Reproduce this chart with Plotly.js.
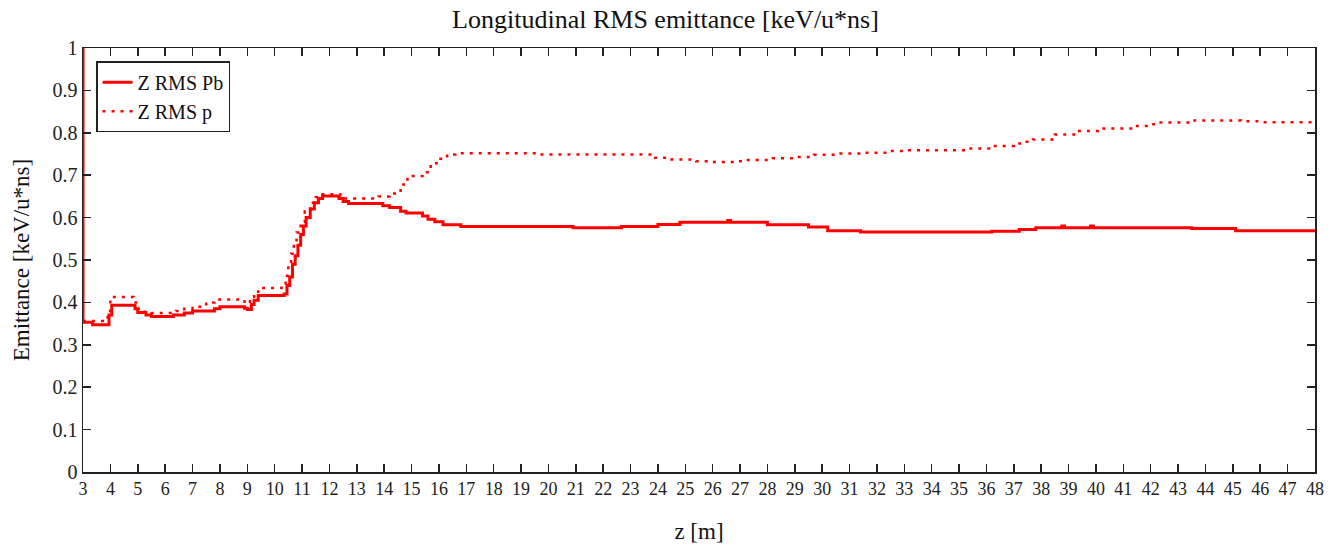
<!DOCTYPE html>
<html>
<head>
<meta charset="utf-8">
<script src="https://cdn.plot.ly/plotly-3.0.1.min.js"></script>
<style>
  html, body { margin: 0; padding: 0; background: #fff; }
  #chart { width: 1331px; height: 547px; }
</style>
</head>
<body>
<div id="chart"></div>
<script>
// Longitudinal RMS emittance along the line, step-wise values (held until next z)
const zPb = [3.0, 3.0, 3.35, 3.95, 4.05, 4.9, 5.0, 5.3, 5.5, 6.3, 6.7, 7.0, 7.8, 8.0, 8.9, 9.0,
  9.15, 9.25, 9.4, 10.35, 10.45, 10.55, 10.65, 10.75, 10.85, 10.95, 11.05, 11.15, 11.3, 11.45,
  11.6, 11.75, 12.35, 12.5, 12.7, 13.95, 14.2, 14.6, 14.8, 15.4, 15.6, 15.85, 16.15, 16.8,
  20.9, 22.67, 24.0, 24.8, 26.55, 26.65, 28.0, 29.5, 30.2, 31.4, 36.2, 37.2, 37.8, 38.75,
  38.85, 39.8, 39.9, 43.5, 45.1, 48.0];
const emitPb = [1.05, 0.353, 0.347, 0.37, 0.393, 0.385, 0.376, 0.37, 0.367, 0.37, 0.375, 0.38,
  0.385, 0.39, 0.386, 0.383, 0.395, 0.405, 0.416, 0.42, 0.44, 0.46, 0.49, 0.51, 0.535, 0.56,
  0.58, 0.6, 0.62, 0.635, 0.645, 0.651, 0.645, 0.638, 0.633, 0.628, 0.624, 0.615, 0.611,
  0.604, 0.596, 0.59, 0.583, 0.579, 0.576, 0.579, 0.584, 0.589, 0.593, 0.589, 0.583, 0.578,
  0.569, 0.566, 0.568, 0.572, 0.576, 0.58, 0.576, 0.58, 0.576, 0.574, 0.569, 0.569];

const zP = [3.0, 3.9, 4.0, 4.85, 5.0, 5.2, 5.5, 6.4, 6.7, 7.0, 7.5, 7.8, 8.9, 9.1, 9.25, 9.4,
  10.25, 10.4, 10.5, 10.6, 10.7, 10.8, 10.95, 11.1, 11.3, 11.5, 11.7, 12.4, 13.8, 14.2, 14.6,
  14.85, 15.4, 15.7, 16.0, 16.3, 16.6, 19.7, 23.9, 24.3, 25.4, 26.0, 26.8, 27.2, 28.2, 29.0,
  29.7, 30.5, 31.5, 32.3, 33.0, 35.3, 36.2, 37.0, 37.4, 37.7, 38.5, 39.2, 40.2, 41.4, 41.9,
  42.2, 43.6, 45.3, 46.0, 48.0];
const emitP = [0.356, 0.38, 0.413, 0.4, 0.385, 0.378, 0.375, 0.38, 0.385, 0.39, 0.4, 0.407,
  0.398, 0.41, 0.425, 0.434, 0.445, 0.463, 0.49, 0.515, 0.54, 0.565, 0.59, 0.615, 0.635,
  0.648, 0.655, 0.645, 0.65, 0.657, 0.678, 0.698, 0.707, 0.728, 0.739, 0.749, 0.752, 0.749,
  0.741, 0.737, 0.733, 0.731, 0.733, 0.736, 0.74, 0.743, 0.748, 0.751, 0.753, 0.757, 0.759,
  0.763, 0.769, 0.775, 0.779, 0.784, 0.796, 0.804, 0.81, 0.816, 0.82, 0.824, 0.829, 0.827,
  0.825, 0.825];

const seriesNames = ['Z RMS Pb', 'Z RMS p'];
const serif = 'Liberation Serif, Times New Roman, serif';

const traces = [
  {
    x: zPb, y: emitPb, name: seriesNames[0], type: 'scatter', mode: 'lines',
    line: { color: '#ff0000', width: 3, shape: 'hv' }
  },
  {
    x: zP, y: emitP, name: seriesNames[1], type: 'scatter', mode: 'lines',
    line: { color: '#ff0000', width: 2.5, shape: 'hv', dash: '3px,6px' }
  }
];

const axisCommon = {
  showline: true, linecolor: '#222', linewidth: 1.5, mirror: 'ticks',
  ticks: 'inside', ticklen: 8, tickwidth: 1.5, tickcolor: '#222',
  showgrid: false, zeroline: false
};

const layout = {
  width: 1331, height: 547,
  margin: { l: 83, r: 16, t: 48, b: 75 },
  paper_bgcolor: '#fff', plot_bgcolor: '#fff',
  title: {
    text: 'Longitudinal RMS emittance [keV/u*ns]',
    font: { family: serif, size: 26, color: '#111' },
    x: 0.5, xanchor: 'center', y: 0.965, yanchor: 'middle'
  },
  xaxis: Object.assign({}, axisCommon, {
    range: [3, 48], tick0: 3, dtick: 1,
    tickfont: { family: serif, size: 18, color: '#222' },
    title: { text: 'z [m]', font: { family: serif, size: 23, color: '#111' }, standoff: 25 }
  }),
  yaxis: Object.assign({}, axisCommon, {
    range: [0, 1], tick0: 0, dtick: 0.1,
    tickfont: { family: serif, size: 20, color: '#222' },
    title: { text: 'Emittance [keV/u*ns]', font: { family: serif, size: 23, color: '#111' }, standoff: 16 }
  }),
  showlegend: true,
  legend: {
    x: 0.0106, y: 0.969, xanchor: 'left', yanchor: 'top',
    bordercolor: '#222', borderwidth: 1.5, bgcolor: '#fff',
    font: { family: serif, size: 20, color: '#111' },
    tracegroupgap: 0
  }
};

Plotly.newPlot('chart', traces, layout, { displayModeBar: false, staticPlot: true });
</script>
</body>
</html>
